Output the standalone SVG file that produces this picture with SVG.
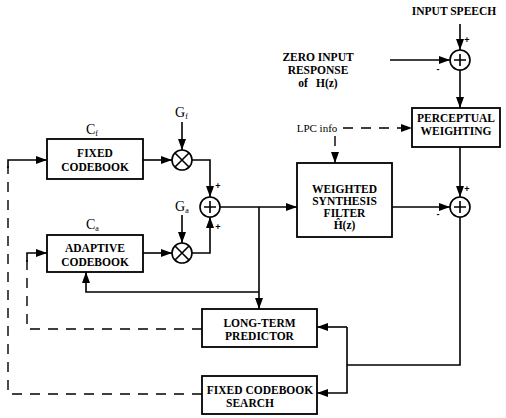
<svg xmlns="http://www.w3.org/2000/svg" width="506" height="418" viewBox="0 0 506 418">
<defs>
<marker id="ah" markerWidth="11" markerHeight="8" refX="11" refY="4" orient="auto" markerUnits="userSpaceOnUse">
<path d="M0,0 L11,4 L0,8 z" fill="#000"/>
</marker>
<style>
.box{fill:#fff;stroke:#000;stroke-width:1.8}
.ln{fill:none;stroke:#000;stroke-width:1.6}
.dash{fill:none;stroke:#000;stroke-width:1.4;stroke-dasharray:10 8}
.arr{marker-end:url(#ah)}
.t{font-family:"Liberation Serif","Times New Roman",serif;font-weight:bold;font-size:11.5px;text-anchor:middle;fill:#000}
.s{font-family:"Liberation Serif","Times New Roman",serif;font-size:11px;fill:#000}
.lbl{font-family:"Liberation Serif","Times New Roman",serif;font-size:14px;fill:#000}
.sub{font-size:8px}
.pm{font-family:"Liberation Sans",Arial,sans-serif;font-weight:bold;font-size:9px;text-anchor:middle;fill:#000}
.sym{fill:#fff;stroke:#000;stroke-width:1.6}
</style>
</defs>
<rect width="506" height="418" fill="#fff"/>

<g id="connectors">
<path class="ln arr" d="M143,160 H172"/>
<path class="ln arr" d="M182,122 V150"/>
<path class="ln arr" d="M192,160 H210 V197"/>
<path class="ln arr" d="M143,253 H172"/>
<path class="ln arr" d="M182,215 V243"/>
<path class="ln arr" d="M192,253 H210 V217"/>
<path class="ln arr" d="M220,207 H297"/>
<path class="ln arr" d="M259,207 V309"/>
<path class="ln arr" d="M259,292 H86 V272"/>
<path class="ln arr" d="M392,207 H450"/>
<path class="ln arr" d="M460,24 V50"/>
<path class="ln arr" d="M390,60 H450"/>
<path class="ln arr" d="M460,70 V108"/>
<path class="ln arr" d="M460,147 V197"/>
<path class="dash arr" d="M343,128 H412"/>
<path class="dash arr" d="M335,136 V163"/>
<path class="ln" d="M460,217 V365 H347"/>
<path class="ln arr" d="M347,327 H317"/>
<path class="ln arr" d="M347,327 V393 H317"/>
<path class="dash" d="M202,329 H27 V260"/>
<path class="ln arr" d="M27,262 V253 H47"/>
<path class="dash" d="M202,394 H8 V166"/>
<path class="ln arr" d="M8,168 V160 H47"/>
</g>

<g id="fixed-codebook">
<rect class="box" x="47" y="139" width="96" height="40"/>
<text class="t" x="95" y="157">FIXED</text>
<text class="t" x="95" y="171">CODEBOOK</text>
<text class="lbl" x="86" y="134">C<tspan class="sub" dy="2">f</tspan></text>
</g>

<g id="adaptive-codebook">
<rect class="box" x="47" y="235" width="96" height="37"/>
<text class="t" x="95" y="252">ADAPTIVE</text>
<text class="t" x="95" y="266">CODEBOOK</text>
<text class="lbl" x="86" y="229">C<tspan class="sub" dy="2">a</tspan></text>
</g>

<g id="mult-f">
<circle class="sym" cx="182" cy="160" r="10"/>
<path class="ln" d="M175,153 L189,167 M189,153 L175,167"/>
<text class="lbl" x="175" y="117">G<tspan class="sub" dy="2">f</tspan></text>
</g>

<g id="mult-a">
<circle class="sym" cx="182" cy="253" r="10"/>
<path class="ln" d="M175,246 L189,260 M189,246 L175,260"/>
<text class="lbl" x="175" y="211">G<tspan class="sub" dy="2">a</tspan></text>
</g>

<g id="sum-excitation">
<circle class="sym" cx="210" cy="207" r="10"/>
<path class="ln" d="M204,207 H216 M210,201 V213"/>
<text class="pm" x="218" y="189">+</text>
<text class="pm" x="218" y="230">+</text>
</g>

<g id="weighted-synthesis-filter">
<rect class="box" x="297" y="163" width="95" height="74"/>
<text class="t" x="344.5" y="193">WEIGHTED</text>
<text class="t" x="344.5" y="205">SYNTHESIS</text>
<text class="t" x="344.5" y="217">FILTER</text>
<text class="t" x="344.5" y="229">Ĥ(z)</text>
</g>

<g id="lpc-info">
<text class="s" x="317" y="132" text-anchor="middle">LPC info</text>
</g>

<g id="input-speech">
<text class="t" x="454" y="15">INPUT SPEECH</text>
</g>

<g id="zero-input-response">
<text class="t" x="318" y="61">ZERO INPUT</text>
<text class="t" x="318" y="74">RESPONSE</text>
<text class="t" x="318" y="87">of<tspan dx="8">H(z)</tspan></text>
</g>

<g id="sum-input">
<circle class="sym" cx="460" cy="60" r="10"/>
<path class="ln" d="M454,60 H466 M460,54 V66"/>
<text class="pm" x="467" y="43">+</text>
<text class="pm" x="438" y="72">-</text>
</g>

<g id="perceptual-weighting">
<rect class="box" x="412" y="108" width="88" height="39"/>
<text class="t" x="456" y="122">PERCEPTUAL</text>
<text class="t" x="456" y="135">WEIGHTING</text>
</g>

<g id="sum-error">
<circle class="sym" cx="460" cy="207" r="10"/>
<path class="ln" d="M454,207 H466 M460,201 V213"/>
<text class="pm" x="467" y="192">+</text>
<text class="pm" x="438" y="217">-</text>
</g>

<g id="long-term-predictor">
<rect class="box" x="202" y="309" width="115" height="38"/>
<text class="t" x="259.5" y="327">LONG-TERM</text>
<text class="t" x="259.5" y="340">PREDICTOR</text>
</g>

<g id="fixed-codebook-search">
<rect class="box" x="202" y="376" width="115" height="38"/>
<text class="t" x="260" y="394">FIXED CODEBOOK</text>
<text class="t" x="250" y="407">SEARCH</text>
</g>
</svg>
